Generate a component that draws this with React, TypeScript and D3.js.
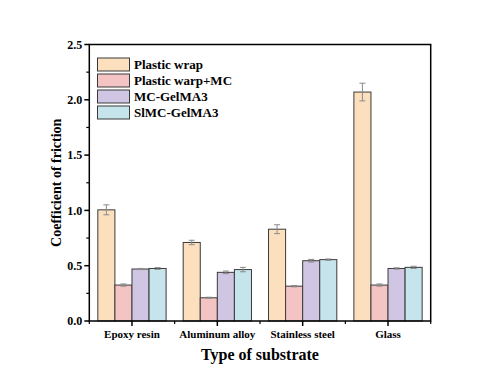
import React from "react";
import * as d3 from "d3";

const categories = ["Epoxy resin", "Aluminum alloy", "Stainless steel", "Glass"];
const seriesNames = ["Plastic wrap", "Plastic warp+MC", "MC-GelMA3", "SlMC-GelMA3"];
const plasticWrap = [1.005, 0.71, 0.83, 2.07];
const plasticWrapMC = [0.325, 0.21, 0.315, 0.325];
const mcGelMA3 = [0.47, 0.44, 0.545, 0.475];
const slmcGelMA3 = [0.475, 0.465, 0.555, 0.485];
const errPlasticWrap = [0.045, 0.02, 0.04, 0.08];
const errPlasticWrapMC = [0.01, 0.005, 0.006, 0.01];
const errMcGelMA3 = [0.005, 0.012, 0.012, 0.006];
const errSlmcGelMA3 = [0.008, 0.02, 0.006, 0.01];
const yTicks = [0, 0.5, 1.0, 1.5, 2.0, 2.5];
const colors = ["#FCE0BE", "#F4C4C4", "#D0C5E2", "#C5E4EC"];

const values = [plasticWrap, plasticWrapMC, mcGelMA3, slmcGelMA3];
const errors = [errPlasticWrap, errPlasticWrapMC, errMcGelMA3, errSlmcGelMA3];

export default function App() {
  const W = 500, H = 383;
  const left = 89.3, right = 430.7, top = 44.5, bottom = 321;
  const x = d3.scaleBand<string>().domain(categories).range([left, right]).padding(0);
  const inner = d3.scaleBand<string>().domain(seriesNames).range([0, x.bandwidth() * 0.8]).padding(0);
  const y = d3.scaleLinear().domain([0, 2.5]).range([bottom, top]);
  const minorY = d3.range(0.25, 2.5, 0.5);
  const font = "'Liberation Serif', 'Times New Roman', serif";
  const groupOffset = x.bandwidth() * 0.1;

  return (
    <svg width={W} height={H} style={{ position: "absolute", left: 0, top: 0 }} fontFamily={font}>
      <rect x={0} y={0} width={W} height={H} fill="#fff" />
      {categories.map((c, ci) =>
        seriesNames.map((s, si) => {
          const v = values[si][ci];
          const e = errors[si][ci];
          const bx = (x(c) as number) + groupOffset + (inner(s) as number);
          const bw = inner.bandwidth();
          const cx = bx + bw / 2;
          return (
            <g key={c + s}>
              <rect x={bx} y={y(v)} width={bw} height={bottom - y(v)} fill={colors[si]} stroke="#3a3a3a" strokeWidth={1} />
              <line x1={cx} x2={cx} y1={y(v - e)} y2={y(v + e)} stroke="#8a8a8a" strokeWidth={1} />
              <line x1={cx - 3} x2={cx + 3} y1={y(v + e)} y2={y(v + e)} stroke="#8a8a8a" strokeWidth={1} />
              <line x1={cx - 3} x2={cx + 3} y1={y(v - e)} y2={y(v - e)} stroke="#8a8a8a" strokeWidth={1} />
            </g>
          );
        })
      )}
      {/* frame */}
      <rect x={left} y={top} width={right - left} height={bottom - top} fill="none" stroke="#000" strokeWidth={1.5} />
      {/* y ticks */}
      {yTicks.map((t) => (
        <g key={"y" + t}>
          <line x1={left - 5} x2={left} y1={y(t)} y2={y(t)} stroke="#000" strokeWidth={1.5} />
          <text x={left - 7} y={y(t)} dy="0.35em" textAnchor="end" fontSize={12} fontWeight="bold">
            {t.toFixed(1)}
          </text>
        </g>
      ))}
      {minorY.map((t) => (
        <line key={"my" + t} x1={left - 3} x2={left} y1={y(t)} y2={y(t)} stroke="#000" strokeWidth={1.2} />
      ))}
      {/* x ticks */}
      {categories.map((c) => {
        const cx = (x(c) as number) + x.bandwidth() / 2;
        return (
          <g key={"x" + c}>
            <line x1={cx} x2={cx} y1={bottom} y2={bottom + 5} stroke="#000" strokeWidth={1.5} />
            <text x={cx} y={bottom + 17} textAnchor="middle" fontSize={11} fontWeight="bold">
              {c}
            </text>
          </g>
        );
      })}
      {categories.concat([""]).map((c, i) => {
        const bx = left + i * x.bandwidth();
        return <line key={"mx" + i} x1={bx} x2={bx} y1={bottom} y2={bottom + 3} stroke="#000" strokeWidth={1.2} />;
      })}
      {/* axis titles */}
      <text x={(left + right) / 2} y={360} textAnchor="middle" fontSize={16} fontWeight="bold">
        Type of substrate
      </text>
      <text transform={`translate(61, ${(top + bottom) / 2}) rotate(-90)`} textAnchor="middle" fontSize={14} fontWeight="bold">
        Coefficient of friction
      </text>
      {/* legend */}
      {seriesNames.map((s, i) => (
        <g key={"l" + s}>
          <rect x={97.5} y={58 + i * 16} width={32} height={13} fill={colors[i]} stroke="#3a3a3a" strokeWidth={1} />
          <text x={134} y={64.5 + i * 16} dy="0.35em" fontSize={13} fontWeight="bold">
            {s}
          </text>
        </g>
      ))}
    </svg>
  );
}
